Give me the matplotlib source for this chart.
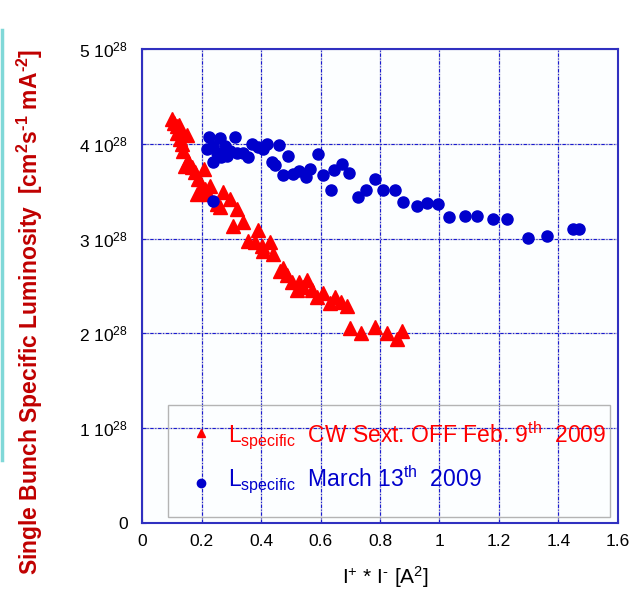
import matplotlib
matplotlib.use("Agg")
import matplotlib.pyplot as plt
from matplotlib.lines import Line2D
from matplotlib.patches import Rectangle

plt.rcParams['font.family'] = ['Liberation Sans', 'DejaVu Sans']
plt.rcParams['mathtext.fontset'] = 'custom'
plt.rcParams['mathtext.rm'] = 'Liberation Sans'
plt.rcParams['mathtext.it'] = 'Liberation Sans:italic'
plt.rcParams['mathtext.bf'] = 'Liberation Sans:bold'
plt.rcParams['mathtext.default'] = 'regular'

# Red: CW Sext. OFF Feb. 9th 2009  (x: I+*I- [A^2], y: units of 1e28)
red_x = [0.101, 0.108, 0.117, 0.124, 0.128, 0.150, 0.117, 0.128, 0.133, 0.139,
         0.156, 0.145, 0.167, 0.178, 0.209, 0.189, 0.201, 0.184, 0.212, 0.223,
         0.273, 0.251, 0.296, 0.318, 0.229, 0.262, 0.307, 0.341, 0.391, 0.357,
         0.380, 0.402, 0.430, 0.408, 0.441, 0.473, 0.464, 0.488, 0.503, 0.520,
         0.529, 0.554, 0.542, 0.570, 0.587, 0.609, 0.632, 0.649, 0.668, 0.688,
         0.699, 0.736, 0.783, 0.823, 0.856, 0.873]
red_y = [4.26, 4.224, 4.189, 4.20, 4.155, 4.092, 4.119, 4.049, 3.997, 3.926,
         3.821, 3.768, 3.751, 3.698, 3.734, 3.628, 3.558, 3.471, 3.523, 3.471,
         3.487, 3.365, 3.418, 3.313, 3.558, 3.329, 3.137, 3.172, 3.092, 2.979,
         2.961, 2.926, 2.961, 2.874, 2.839, 2.692, 2.656, 2.611, 2.540, 2.460,
         2.540, 2.565, 2.487, 2.453, 2.382, 2.424, 2.319, 2.389, 2.329, 2.287,
         2.060, 2.005, 2.063, 2.005, 1.940, 2.024]

# Blue: March 13th 2009
blue_x = [0.226, 0.262, 0.313, 0.217, 0.239, 0.251, 0.279, 0.296, 0.318, 0.341,
          0.357, 0.240, 0.265, 0.285, 0.369, 0.391, 0.419, 0.408, 0.461, 0.492,
          0.436, 0.447, 0.475, 0.508, 0.529, 0.550, 0.564, 0.590, 0.608, 0.634,
          0.647, 0.671, 0.697, 0.727, 0.754, 0.784, 0.811, 0.849, 0.878, 0.923,
          0.957, 0.996, 1.033, 1.086, 1.125, 1.179, 1.228, 1.298, 1.360, 1.448,
          1.470, 0.240]
blue_y = [4.074, 4.066, 4.074, 3.944, 3.979, 3.908, 3.979, 3.926, 3.908, 3.908,
          3.856, 3.803, 3.856, 3.874, 4.003, 3.961, 4.003, 3.944, 3.989, 3.868,
          3.803, 3.779, 3.674, 3.684, 3.711, 3.653, 3.734, 3.892, 3.674, 3.516,
          3.723, 3.782, 3.695, 3.442, 3.513, 3.628, 3.513, 3.513, 3.389, 3.347,
          3.376, 3.365, 3.224, 3.235, 3.235, 3.207, 3.207, 3.003, 3.028, 3.102,
          3.102, 3.393]

x_ticks = [0, 0.2, 0.4, 0.6, 0.8, 1.0, 1.2, 1.4, 1.6]
x_tick_labels = ['0', '0.2', '0.4', '0.6', '0.8', '1', '1.2', '1.4', '1.6']
y_ticks = [0, 1, 2, 3, 4, 5]
y_tick_labels = ['0', r'1 10$^{28}$', r'2 10$^{28}$', r'3 10$^{28}$',
                 r'4 10$^{28}$', r'5 10$^{28}$']

RED = '#ff0000'
BLUE = '#0000cc'
AXC = '#3030c0'
HY = '\u2010'  # hyphen used in superscripts

fig = plt.figure(figsize=(6.36, 5.90), dpi=100)
fig.patch.set_facecolor('white')
ax = fig.add_axes([142/636, 1-523/590, 476/636, 474/590])
ax.set_facecolor('#fcfeff')

ax.set_xlim(0, 1.6)
ax.set_ylim(0, 5)
ax.set_xticks(x_ticks)
ax.set_xticklabels(x_tick_labels)
ax.set_yticks(y_ticks)
ax.set_yticklabels(y_tick_labels)
ax.tick_params(axis='both', direction='in', length=3, color=AXC, labelsize=12.5,
               labelcolor='black')
ax.tick_params(axis='x', pad=8)
ax.tick_params(axis='y', pad=10)
for s in ax.spines.values():
    s.set_color(AXC)
    s.set_linewidth(1.5)

# grid: light gray underlay + blue dash-dot
ax.grid(True, color='#c8c8dc', linestyle='-', linewidth=1.0, zorder=0)
for xv in x_ticks[1:-1]:
    ax.axvline(xv, color='#1a1ad0', linestyle=(0, (3, 1.5, 1, 1.5)), linewidth=0.8, zorder=1)
for yv in y_ticks[1:-1]:
    ax.axhline(yv, color='#1a1ad0', linestyle=(0, (3, 1.5, 1, 1.5)), linewidth=0.8, zorder=1)
ax.set_axisbelow(True)

ax.plot(red_x, red_y, linestyle='none', marker='^', markersize=9.5,
        color=RED, markeredgecolor=RED, zorder=3)
ax.plot(blue_x, blue_y, linestyle='none', marker='o', markersize=8,
        color=BLUE, markeredgecolor=BLUE, zorder=4)

# legend (manual)
ax.add_patch(Rectangle((26/476, 6/474), 442/476, 112/474, transform=ax.transAxes,
                       facecolor='none', edgecolor='#b4b4b4', linewidth=1.0, zorder=5))
ax.plot([59/476], [90/474], transform=ax.transAxes, marker='^', markersize=6,
        color=RED, linestyle='none', clip_on=False, zorder=6)
ax.plot([59/476], [40/474], transform=ax.transAxes, marker='o', markersize=6,
        color=BLUE, linestyle='none', clip_on=False, zorder=6)
ax.text(86/476, 80/474, r'L$_{specific}$  CW Sext. OFF Feb. 9$^{th}$  2009',
        transform=ax.transAxes, color=RED, fontsize=16.5, ha='left', va='baseline', zorder=6)
ax.text(86/476, 36/474, r'L$_{specific}$  March 13$^{th}$  2009',
        transform=ax.transAxes, color=BLUE, fontsize=16.5, ha='left', va='baseline', zorder=6)

fig.text(385/636, 1-577/590, 'I$^{+}$ * I$^{' + HY + '}$ [A$^{2}$]', fontsize=15,
         ha='center', va='center')
fig.text(30/636, 1-312/590,
         'Single Bunch Specific Luminosity  [cm$^{2}$s$^{' + HY + '1}$ mA$^{' + HY + '2}$]',
         fontsize=16.5, fontweight='bold', color='#c00000', rotation=90,
         ha='center', va='center')

fig.add_artist(Line2D([2/636, 2/636], [1-30/590, 1-460/590], color='#80d8d8',
                      linewidth=2.5, transform=fig.transFigure))

fig.savefig('out.png', dpi=100)
